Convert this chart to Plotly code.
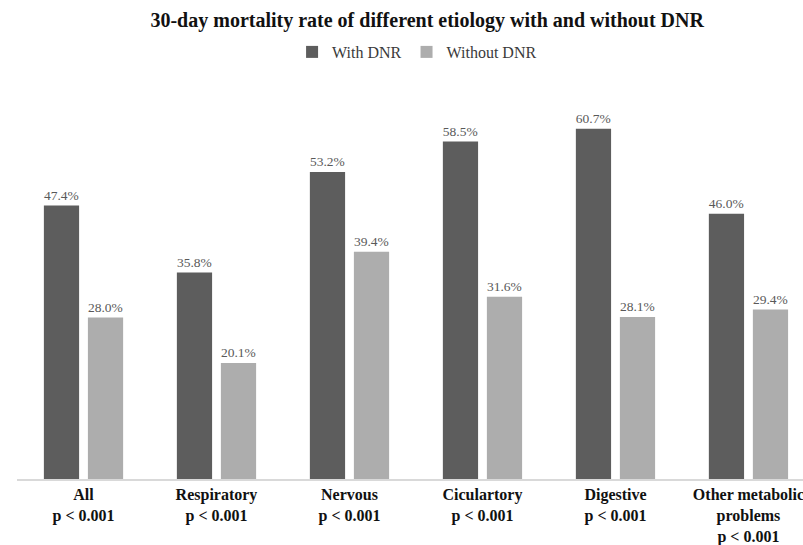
import plotly.graph_objects as go

# Etiology groups and 30-day mortality (%) with / without DNR order
categories = ["All", "Respiratory", "Nervous", "Ciculartory", "Digestive", "Other metabolic<br>problems"]
p_values = ["p < 0.001"] * 6
with_dnr = [47.4, 35.8, 53.2, 58.5, 60.7, 46.0]
without_dnr = [28.0, 20.1, 39.4, 31.6, 28.1, 29.4]

tick_text = [f"{c}<br>{p}" for c, p in zip(categories, p_values)]
x_pos = list(range(len(categories)))

SERIF = "Liberation Serif, Times New Roman, serif"
DARK = "#5d5d5d"
LIGHT = "#adadad"

fig = go.Figure()
fig.add_trace(go.Bar(
    x=x_pos, y=with_dnr, name="With DNR",
    marker=dict(color=DARK, line=dict(width=0)),
    text=[f"{v:.1f}%" for v in with_dnr], textposition="outside",
    textfont=dict(family=SERIF, size=14, color="#595959"),
    cliponaxis=False,
))
fig.add_trace(go.Bar(
    x=x_pos, y=without_dnr, name="Without DNR",
    marker=dict(color=LIGHT, line=dict(width=0)),
    text=[f"{v:.1f}%" for v in without_dnr], textposition="outside",
    textfont=dict(family=SERIF, size=14, color="#595959"),
    cliponaxis=False,
))

fig.update_layout(
    width=803, height=545,
    margin=dict(l=17, r=0, t=100, b=66),
    paper_bgcolor="white", plot_bgcolor="white",
    barmode="group", bargap=0.338, bargroupgap=0.2,
    title=dict(
        text="30-day mortality rate of different etiology with and without DNR",
        font=dict(family=SERIF, size=20, color="#111111", weight="bold"),
        x=0.532, xref="container", xanchor="center",
        y=1 - 20 / 545, yref="container", yanchor="middle",
    ),
    legend=dict(
        orientation="h", x=0.509, xanchor="center",
        yref="container", y=1 - 52 / 545, yanchor="middle",
        font=dict(family=SERIF, size=16, color="#3a3a3a"),
        itemwidth=30, traceorder="normal",
    ),
)
fig.update_xaxes(
    tickmode="array", tickvals=x_pos, ticktext=tick_text,
    range=[-0.5, 5.41], tickangle=0, ticklabeloverflow="allow",
    showline=True, linecolor="#d9d9d9", linewidth=2,
    ticks="", showgrid=False, zeroline=False,
    tickfont=dict(family=SERIF, size=16, color="#111111", weight="bold"),
)
fig.update_yaxes(
    range=[0, 65.7], visible=False, showgrid=False, zeroline=False,
)

fig.write_html("out.html")
